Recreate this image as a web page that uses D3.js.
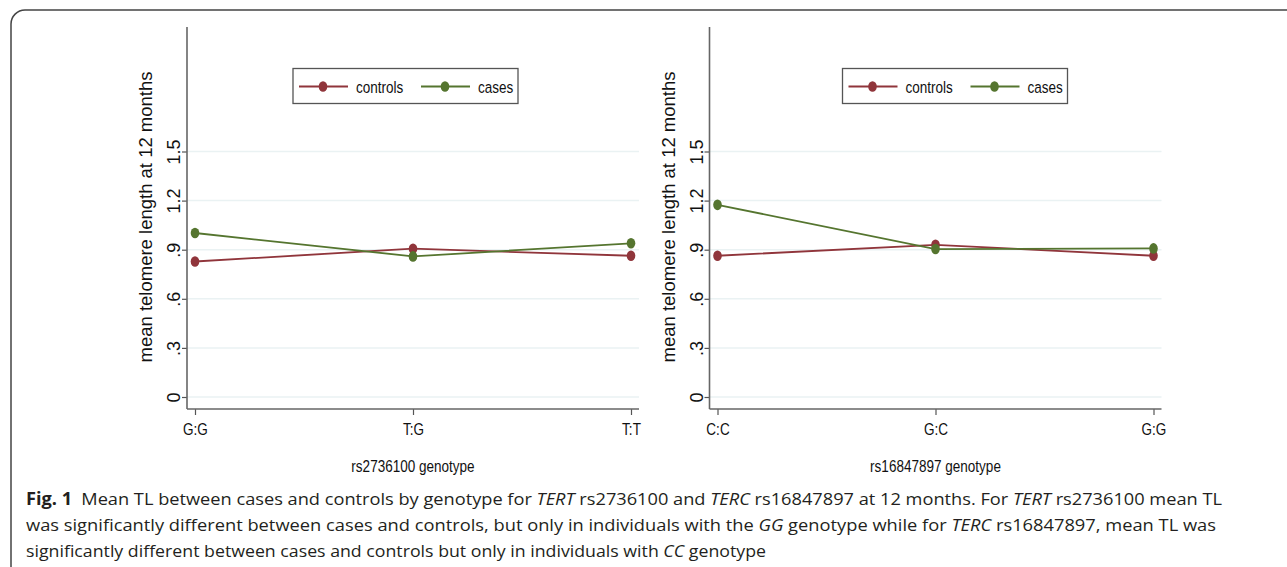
<!DOCTYPE html>
<html>
<head>
<meta charset="utf-8">
<script src="https://cdn.jsdelivr.net/npm/d3@7"></script>
<style>
  body { margin: 0; background: #fff; }
  svg { display: block; }
</style>
</head>
<body>
<div id="fig"></div>
<script>
// chart values
var genotypesTert = ["G:G", "T:G", "T:T"];
var genotypesTerc = ["C:C", "G:C", "G:G"];
var controlsTert = [0.828, 0.906, 0.863];
var casesTert = [1.002, 0.859, 0.939];
var controlsTerc = [0.863, 0.930, 0.863];
var casesTerc = [1.174, 0.904, 0.908];
var yTicks = [0, 0.3, 0.6, 0.9, 1.2, 1.5];
var xTitles = ["rs2736100 genotype", "rs16847897 genotype"];
var seriesNames = ["controls", "cases"];

var width = 1287,
  height = 567;

var colors = { controls: "#90353b", cases: "#55752f" };
var font = "'Liberation Sans', Arial, sans-serif";
// the figure uses a narrow face; squeeze the regular one instead
var squeeze = 0.82;

var svg = d3.select("#fig").append("svg")
  .attr("width", width)
  .attr("height", height);

// frame round the whole figure
svg.append("rect")
  .attr("x", 11).attr("y", 10)
  .attr("width", 1400).attr("height", 700)
  .attr("rx", 14)
  .attr("fill", "none")
  .attr("stroke", "#444")
  .attr("stroke-width", 1.5);

// y scale shared by both panels
var y = d3.scaleLinear().domain([0, 1.5]).range([397, 151.5]);
var plotTop = 27, plotBottom = 409;

var yFormat = function (d) { return d === 0 ? "0" : d3.format(".1f")(d).replace(/^0/, ""); };

function drawPanel(offset, legendX, genotypes, controls, cases, xTitle) {
  var g = svg.append("g").attr("transform", "translate(" + offset + ",0)");
  var axisLeftX = 187, axisRightX = 639;

  var x = d3.scalePoint()
    .domain(genotypes)
    .range([195, 631]);

  // grid lines
  g.append("g")
    .selectAll("line")
    .data(yTicks)
    .enter()
    .append("line")
    .attr("x1", axisLeftX).attr("x2", axisRightX)
    .attr("y1", function (d) { return y(d); })
    .attr("y2", function (d) { return y(d); })
    .attr("stroke", "#eaf2f3")
    .attr("stroke-width", 1.5);

  // y axis
  var yAxis = g.append("g")
    .attr("transform", "translate(" + axisLeftX + ",0)")
    .call(d3.axisLeft(y).tickValues(yTicks).tickFormat(yFormat).tickSize(5).tickPadding(7));
  yAxis.select(".domain").remove();
  yAxis.selectAll(".tick line").attr("stroke", "#555").attr("stroke-width", 1.2);
  yAxis.selectAll(".tick text")
    .attr("font-family", font)
    .attr("font-size", 18)
    .attr("fill", "#111")
    .attr("x", 0).attr("dy", 0)
    .attr("text-anchor", "middle")
    .attr("transform", "translate(-7,0) rotate(-90)");

  // x axis
  var xAxis = g.append("g")
    .attr("transform", "translate(0," + plotBottom + ")")
    .call(d3.axisBottom(x).tickSize(6).tickPadding(8));
  xAxis.select(".domain").remove();
  xAxis.selectAll(".tick line").attr("stroke", "#555").attr("stroke-width", 1.2);
  xAxis.selectAll(".tick text")
    .attr("font-family", font)
    .attr("font-size", 16.5)
    .attr("fill", "#111")
    .attr("transform", "scale(" + squeeze + ",1)");

  // axis lines
  g.append("line")
    .attr("x1", axisLeftX).attr("x2", axisLeftX)
    .attr("y1", plotTop).attr("y2", plotBottom)
    .attr("stroke", "#666").attr("stroke-width", 1.6);
  g.append("line")
    .attr("x1", axisLeftX).attr("x2", axisRightX)
    .attr("y1", plotBottom).attr("y2", plotBottom)
    .attr("stroke", "#666").attr("stroke-width", 1.6);

  // axis titles
  g.append("text")
    .attr("transform", "translate(152,217) rotate(-90)")
    .attr("text-anchor", "middle")
    .attr("font-family", font)
    .attr("font-size", 18.5)
    .attr("fill", "#111")
    .text("mean telomere length at 12 months");
  g.append("text")
    .attr("transform", "translate(413,472) scale(" + squeeze + ",1)")
    .attr("text-anchor", "middle")
    .attr("font-family", font)
    .attr("font-size", 16.5)
    .attr("fill", "#111")
    .text(xTitle);

  // series
  var line = d3.line()
    .x(function (d, i) { return x(genotypes[i]); })
    .y(function (d) { return y(d); });

  [["controls", controls], ["cases", cases]].forEach(function (s) {
    g.append("path")
      .datum(s[1])
      .attr("d", line)
      .attr("fill", "none")
      .attr("stroke", colors[s[0]])
      .attr("stroke-width", 1.8);
    g.append("g")
      .selectAll("ellipse")
      .data(s[1])
      .enter()
      .append("ellipse")
      .attr("cx", function (d, i) { return x(genotypes[i]); })
      .attr("cy", function (d) { return y(d); })
      .attr("rx", 4.3).attr("ry", 5.3)
      .attr("fill", colors[s[0]]);
  });

  // legend
  var legend = svg.append("g").attr("transform", "translate(" + legendX + ",68.5)");
  legend.append("rect")
    .attr("width", 225).attr("height", 35)
    .attr("fill", "#fff")
    .attr("stroke", "#555")
    .attr("stroke-width", 1.3);
  var items = legend.selectAll("g.item")
    .data(seriesNames)
    .enter()
    .append("g")
    .attr("class", "item")
    .attr("transform", function (d, i) { return "translate(" + (i * 122) + ",0)"; });
  items.append("line")
    .attr("x1", 6).attr("x2", 55)
    .attr("y1", 18).attr("y2", 18)
    .attr("stroke", function (d) { return colors[d]; })
    .attr("stroke-width", 1.8);
  items.append("ellipse")
    .attr("cx", 30).attr("cy", 18)
    .attr("rx", 4.3).attr("ry", 5.3)
    .attr("fill", function (d) { return colors[d]; });
  items.append("text")
    .attr("transform", "translate(63,24) scale(" + squeeze + ",1)")
    .attr("font-family", font)
    .attr("font-size", 16.5)
    .attr("fill", "#111")
    .text(function (d) { return d; });
}

drawPanel(0, 293, genotypesTert, controlsTert, casesTert, xTitles[0]);
drawPanel(522.5, 842.5, genotypesTerc, controlsTerc, casesTerc, xTitles[1]);

// caption
var captionLines = [
  { y: 505, len: 1196, parts: [
    ["Fig. 1", "b"], ["\u2002Mean TL between cases and controls by genotype for ", ""], ["TERT", "i"],
    [" rs2736100 and ", ""], ["TERC", "i"], [" rs16847897 at 12 months. For ", ""], ["TERT", "i"],
    [" rs2736100 mean TL", ""]] },
  { y: 531, len: 1190, parts: [
    ["was significantly different between cases and controls, but only in individuals with the ", ""],
    ["GG", "i"], [" genotype while for ", ""], ["TERC", "i"], [" rs16847897, mean TL was", ""]] },
  { y: 557, len: 740, parts: [
    ["significantly different between cases and controls but only in individuals with ", ""],
    ["CC", "i"], [" genotype", ""]] }
];

captionLines.forEach(function (ln) {
  var t = svg.append("text")
    .attr("x", 26).attr("y", ln.y)
    .attr("font-family", "'Open Sans', 'Noto Sans', sans-serif")
    .attr("font-size", 17)
    .attr("fill", "#231f20")
    .attr("textLength", ln.len)
    .attr("lengthAdjust", "spacingAndGlyphs");
  ln.parts.forEach(function (p) {
    t.append("tspan")
      .attr("font-weight", p[1] === "b" ? "bold" : null)
      .attr("font-style", p[1] === "i" ? "italic" : null)
      .text(p[0]);
  });
});
</script>
</body>
</html>
